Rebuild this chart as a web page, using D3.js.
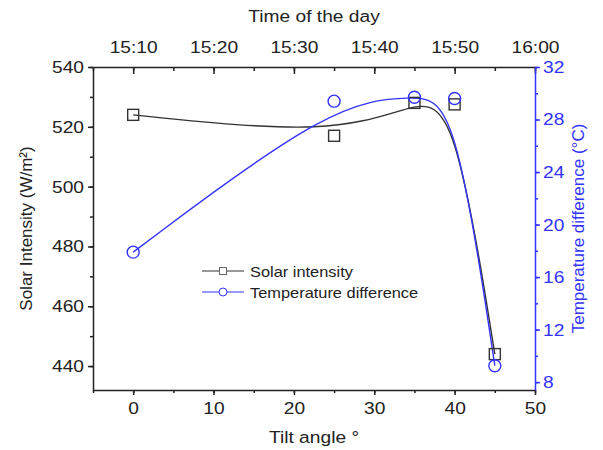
<!DOCTYPE html>
<html>
<head>
<meta charset="utf-8">
<script src="https://cdn.jsdelivr.net/npm/d3@7"></script>
<style>
  body { margin: 0; background: #fff; }
  text { font-family: "Liberation Sans", Arial, sans-serif; }
</style>
</head>
<body>
<svg id="chart" width="603" height="450"></svg>
<script>
// data
let tiltAngles = [0, 25, 35, 40, 45];
let solarIntensity = [524, 517, 528, 527.5, 444];
let tempDifference = [17.9, 29.4, 29.7, 29.6, 9.25];
let xTicks = [0, 10, 20, 30, 40, 50];
let leftTicks = [440, 460, 480, 500, 520, 540];
let rightTicks = [8, 12, 16, 20, 24, 28, 32];
let timeTicks = ["15:10", "15:20", "15:30", "15:40", "15:50", "16:00"];

let blue = "#3333ff";
let dark = "#333333";
let stretch = 1.13; // the original text is a bit wider than Arial

let margin = {left: 93, right: 535, top: 67, bottom: 390};
let svg = d3.select("#chart");

let x = d3.scaleLinear().domain([-5, 50]).range([margin.left, margin.right]);
let yLeft = d3.scaleLinear().domain([432, 540]).range([margin.bottom, margin.top]);
let yRight = d3.scaleLinear().domain([7.4, 32]).range([margin.bottom, margin.top]);

let parseTime = d3.timeParse("%H:%M");
let xTime = d3.scaleTime()
    .domain([parseTime("15:05"), parseTime("16:00")])
    .range([margin.left, margin.right]);

function styleAxis(g, color) {
    g.selectAll("path, line").attr("stroke", color).attr("stroke-width", 1.5);
    g.selectAll("text").attr("fill", color).style("font-size", "17px")
        .style("font-family", "Liberation Sans, Arial, sans-serif")
        .attr("transform", `scale(${stretch},1)`)
        .attr("x", function() { return +d3.select(this).attr("x") / stretch || 0; });
}

// minor ticks
function minor(g, axis) { g.call(axis); g.selectAll("text").remove(); g.select(".domain").remove(); }

// horizontal text with a slight horizontal stretch
function label(px, py, str, size, color) {
    return svg.append("text")
        .attr("transform", `translate(${px},${py}) scale(${stretch},1)`)
        .attr("text-anchor", "middle").style("font-size", size + "px")
        .attr("fill", color).text(str);
}

// bottom
svg.append("g").attr("transform", `translate(0,${margin.bottom})`)
    .call(g => minor(g, d3.axisBottom(x).tickValues(d3.range(-5, 51, 5)).tickSize(3).tickFormat("")))
    .call(g => styleAxis(g, "#222"));
let bottomAxis = svg.append("g").attr("transform", `translate(0,${margin.bottom})`)
    .call(d3.axisBottom(x).tickValues(xTicks).tickSize(5).tickSizeOuter(0).tickPadding(7));
styleAxis(bottomAxis, "#222");

// top (time)
svg.append("g").attr("transform", `translate(0,${margin.top})`)
    .call(g => minor(g, d3.axisBottom(xTime).ticks(d3.timeMinute.every(5)).tickSize(4).tickFormat("")))
    .call(g => styleAxis(g, "#222"));
svg.append("g").attr("transform", `translate(0,${margin.top})`)
    .call(g => minor(g, d3.axisBottom(xTime).tickValues(timeTicks.map(parseTime)).tickSize(7).tickFormat("")))
    .call(g => styleAxis(g, "#222"));
let topAxis = svg.append("g").attr("transform", `translate(0,${margin.top})`)
    .call(d3.axisTop(xTime).tickValues(timeTicks.map(parseTime)).tickSize(0).tickSizeOuter(0)
        .tickPadding(14).tickFormat(d3.timeFormat("%H:%M")));
styleAxis(topAxis, "#222");

// left
svg.append("g").attr("transform", `translate(${margin.left},0)`)
    .call(g => minor(g, d3.axisLeft(yLeft).tickValues(d3.range(440, 541, 10)).tickSize(3).tickFormat("")))
    .call(g => styleAxis(g, "#222"));
let leftAxis = svg.append("g").attr("transform", `translate(${margin.left},0)`)
    .call(d3.axisLeft(yLeft).tickValues(leftTicks).tickSize(5).tickSizeOuter(0).tickPadding(4));
styleAxis(leftAxis, "#222");

// right
svg.append("g").attr("transform", `translate(${margin.right},0)`)
    .call(g => minor(g, d3.axisRight(yRight).tickValues(d3.range(8, 33, 2)).tickSize(3).tickFormat("")))
    .call(g => styleAxis(g, blue));
let rightAxis = svg.append("g").attr("transform", `translate(${margin.right},0)`)
    .call(d3.axisRight(yRight).tickValues(rightTicks).tickSize(5).tickSizeOuter(0).tickPadding(3));
styleAxis(rightAxis, blue);

// axis titles
label((margin.left + margin.right) / 2, 443, "Tilt angle °", 17, "#222");
label((margin.left + margin.right) / 2, 22, "Time of the day", 17, "#222");
svg.append("text").attr("transform", `translate(32,${(margin.top + margin.bottom) / 2}) rotate(-90)`)
    .attr("text-anchor", "middle").style("font-size", "17px").attr("fill", "#222").text("Solar Intensity (W/m²)");
svg.append("text").attr("transform", `translate(584,${(margin.top + margin.bottom) / 2}) rotate(-90)`)
    .attr("text-anchor", "middle").style("font-size", "17px").attr("fill", blue).text("Temperature difference (°C)");

// curves (B-spline)
let solarPts = tiltAngles.map((d, i) => [x(d), yLeft(solarIntensity[i])]);
let tempPts = tiltAngles.map((d, i) => [x(d), yRight(tempDifference[i])]);
let line = d3.line().curve(d3.curveBasis);

svg.append("path").attr("d", line(solarPts)).attr("fill", "none")
    .attr("stroke", dark).attr("stroke-width", 1.4);
svg.append("path").attr("d", line(tempPts)).attr("fill", "none")
    .attr("stroke", blue).attr("stroke-width", 1.4);

svg.selectAll(".sq").data(solarPts).enter().append("rect")
    .attr("x", d => d[0] - 5.5).attr("y", d => d[1] - 5.5)
    .attr("width", 11).attr("height", 11)
    .attr("fill", "none").attr("stroke", dark).attr("stroke-width", 1.4);
svg.selectAll(".ci").data(tempPts).enter().append("circle")
    .attr("cx", d => d[0]).attr("cy", d => d[1]).attr("r", 6)
    .attr("fill", "none").attr("stroke", blue).attr("stroke-width", 1.4);

// legend
let legend = svg.append("g");
legend.append("line").attr("x1", 202).attr("x2", 244).attr("y1", 271).attr("y2", 271)
    .attr("stroke", dark).attr("stroke-width", 1.2);
legend.append("rect").attr("x", 219.5).attr("y", 267.5).attr("width", 7).attr("height", 7)
    .attr("fill", "#fff").attr("stroke", "#666").attr("stroke-width", 1);
legend.append("text").attr("transform", `translate(250,276.5) scale(${stretch},1)`)
    .style("font-size", "14.5px").attr("fill", "#222").text("Solar intensity");
legend.append("line").attr("x1", 202).attr("x2", 244).attr("y1", 292).attr("y2", 292)
    .attr("stroke", blue).attr("stroke-width", 1.2);
legend.append("circle").attr("cx", 223).attr("cy", 292).attr("r", 4)
    .attr("fill", "#fff").attr("stroke", blue).attr("stroke-width", 1);
legend.append("text").attr("transform", `translate(250,297.5) scale(${stretch},1)`)
    .style("font-size", "14.5px").attr("fill", "#222").text("Temperature difference");
</script>
</body>
</html>
